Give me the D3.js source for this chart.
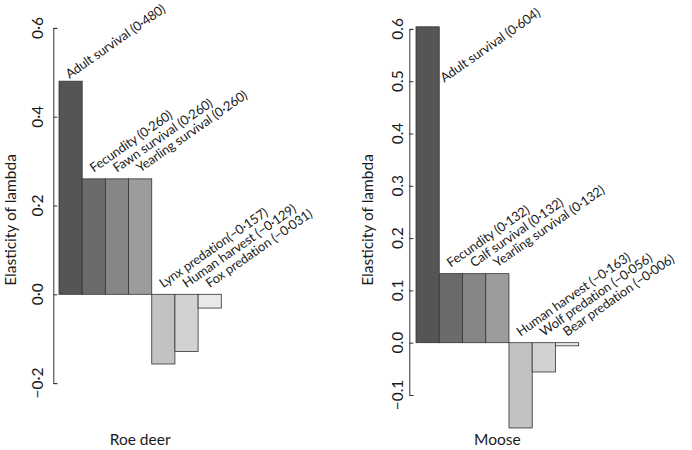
<!DOCTYPE html>
<html><head><meta charset="utf-8">
<script src="https://cdn.jsdelivr.net/npm/d3@7"></script>
<style>body{margin:0;background:#fff}svg{display:block}text{font-family:Lato,"Open Sans",sans-serif;fill:#1a1a1a}</style>
</head><body><svg id="c" width="692" height="450"></svg>
<script>
const roeLabels = ["Adult survival (0·480)","Fecundity (0·260)","Fawn survival (0·260)","Yearling survival (0·260)","Lynx predation(−0·157)","Human harvest (−0·129)","Fox predation (−0·031)"];
const roeValues = [0.480,0.260,0.260,0.260,-0.157,-0.129,-0.031];
const roeTicks = [-0.2,0,0.2,0.4,0.6];
const roeTickLabels = ["−0·2","0·0","0·2","0·4","0·6"];
const mooseLabels = ["Adult survival (0·604)","Fecundity (0·132)","Calf survival (0·132)","Yearling survival (0·132)","Human harvest (−0·163)","Wolf predation (−0·056)","Bear predation (−0·006)"];
const mooseValues = [0.604,0.132,0.132,0.132,-0.163,-0.056,-0.006];
const mooseTicks = [-0.1,0,0.1,0.2,0.3,0.4,0.5,0.6];
const mooseTickLabels = ["−0.1","0.0","0.1","0.2","0.3","0.4","0.5","0.6"];
const barColors = ["#555555","#6b6b6b","#868686","#9c9c9c","#c2c2c2","#d2d2d2","#e9e9e9"];
const yTitle = "Elasticity of lambda";
const panelNames = ["Roe deer","Moose"];

const svg = d3.select("#c");
const panels = [
  {labels:roeLabels, values:roeValues, ticks:roeTicks, tickLabels:roeTickLabels, name:panelNames[0],
   yDom:[-0.2,0.6], yRange:[383.1,27.9], xRange:[59,221.3], axisX:53.3, titleX:16, tickX:43},
  {labels:mooseLabels, values:mooseValues, ticks:mooseTicks, tickLabels:mooseTickLabels, name:panelNames[1],
   yDom:[-0.1,0.6], yRange:[395,28.9], xRange:[416,578.7], axisX:409.3, titleX:373, tickX:403}
];
const ang = 35, rad = ang*Math.PI/180;

panels.forEach(p => {
  const y = d3.scaleLinear().domain(p.yDom).range(p.yRange);
  const x = d3.scaleBand().domain(d3.range(p.values.length)).range(p.xRange).padding(0);
  const g = svg.append("g");
  const ax = g.append("g").attr("transform", `translate(${p.axisX},0)`)
    .call(d3.axisLeft(y).tickValues(p.ticks).tickSize(-4).tickSizeOuter(-4).tickFormat((d,i)=>p.tickLabels[i]));
  ax.select(".domain").attr("stroke","#333").attr("stroke-width",1);
  ax.selectAll(".tick line").attr("stroke","#333");
  ax.selectAll(".tick text").remove();
  g.selectAll(".tl").data(p.ticks).enter().append("text")
    .attr("transform",(d)=>`translate(${p.tickX},${y(d)}) rotate(-90)`)
    .attr("text-anchor","middle").attr("font-size",15.5)
    .text((d,i)=>p.tickLabels[i]);
  g.selectAll("rect").data(p.values).enter().append("rect")
    .attr("x",(d,i)=>x(i)).attr("width",x.bandwidth())
    .attr("y",d=>y(Math.max(d,0))).attr("height",d=>Math.abs(y(d)-y(0)))
    .attr("fill",(d,i)=>barColors[i]).attr("stroke","#333").attr("stroke-width",0.8);
  g.selectAll(".bl").data(p.values).enter().append("text")
    .attr("font-size",13).attr("letter-spacing","-0.15").attr("text-anchor","start")
    .text((d,i)=>p.labels[i])
    .each(function(d,i){
      let lx = x(i)+x.bandwidth()/2, ly = y(Math.max(d,0))-6;
      if (d > 0.5) { lx = x(i)+x.bandwidth()+5; ly = y(0.497); }
      const L = this.getComputedTextLength();
      const topY = ly - L*Math.sin(rad) - 10*Math.cos(rad);
      if (topY < 3) { const s = 3 - topY; ly += s; lx -= s*0.3; }
      d3.select(this).attr("transform",`translate(${lx},${ly}) rotate(-${ang})`);
    });
  g.append("text").attr("transform",`translate(${p.titleX},220) rotate(-90)`)
    .attr("text-anchor","middle").attr("font-size",15.5).text(yTitle);
  g.append("text").attr("x",(p.xRange[0]+p.xRange[1])/2).attr("y",445)
    .attr("text-anchor","middle").attr("font-size",15.5).text(p.name);
});
</script></body></html>
